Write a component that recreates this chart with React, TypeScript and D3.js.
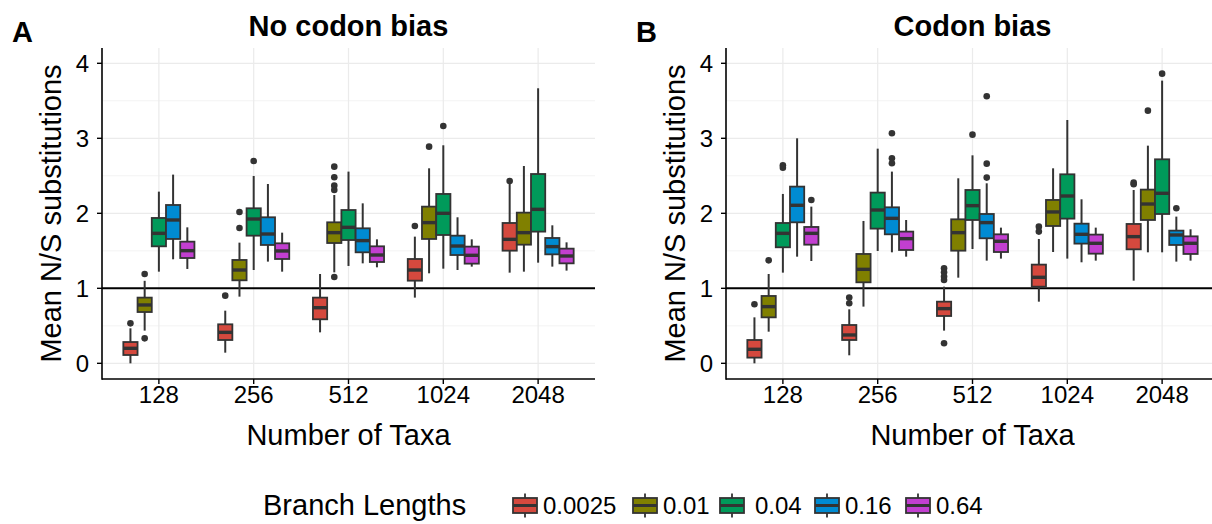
import React from "react";
import * as d3 from "d3";

const taxa = ["128", "256", "512", "1024", "2048"];
const branchLengths = ["0.0025", "0.01", "0.04", "0.16", "0.64"];
const fillColors = ["#D5493E", "#808000", "#009A5A", "#008BD2", "#C23FD0"];
const yTicks = [0, 1, 2, 3, 4];

// [lower whisker, q1, median, q3, upper whisker, outliers] per taxa, per branch length
const noBias128 = [
  [0.0, 0.111, 0.2, 0.284, 0.467, [0.533]],
  [0.436, 0.684, 0.778, 0.876, 1.1, [1.19, 0.333]],
  [1.222, 1.56, 1.733, 1.938, 2.289, []],
  [1.387, 1.658, 1.911, 2.111, 2.516, []],
  [1.258, 1.404, 1.502, 1.622, 1.813, []],
];
const noBias256 = [
  [0.142, 0.311, 0.413, 0.52, 0.702, [0.902]],
  [0.889, 1.107, 1.244, 1.378, 1.609, [1.804, 2.018]],
  [1.244, 1.702, 1.924, 2.067, 2.498, [2.698]],
  [1.356, 1.578, 1.724, 1.947, 2.391, []],
  [1.222, 1.391, 1.498, 1.6, 1.742, []],
];
const noBias512 = [
  [0.413, 0.587, 0.742, 0.876, 1.191, []],
  [1.213, 1.604, 1.742, 1.88, 2.244, [2.622, 2.48, 2.369, 2.311, 1.151]],
  [1.298, 1.644, 1.813, 2.044, 2.556, []],
  [1.333, 1.48, 1.636, 1.8, 2.133, []],
  [1.28, 1.351, 1.444, 1.56, 1.653, []],
];
const noBias1024 = [
  [0.876, 1.102, 1.244, 1.391, 1.689, [1.831]],
  [1.2, 1.658, 1.876, 2.089, 2.6, [2.889]],
  [1.262, 1.711, 2.0, 2.258, 2.907, [3.164]],
  [1.244, 1.444, 1.564, 1.702, 1.947, []],
  [1.289, 1.329, 1.44, 1.556, 1.653, []],
];
const noBias2048 = [
  [1.209, 1.502, 1.653, 1.871, 2.391, [2.431]],
  [1.222, 1.582, 1.742, 2.009, 2.631, []],
  [1.342, 1.756, 2.053, 2.524, 3.667, []],
  [1.289, 1.453, 1.556, 1.671, 1.84, []],
  [1.236, 1.333, 1.431, 1.529, 1.613, []],
];

const bias128 = [
  [0.0, 0.076, 0.187, 0.311, 0.613, [0.787]],
  [0.422, 0.613, 0.756, 0.898, 1.191, [1.373]],
  [1.209, 1.547, 1.733, 1.871, 2.258, [2.64, 2.609]],
  [1.422, 1.88, 2.107, 2.356, 3.0, []],
  [1.364, 1.582, 1.733, 1.818, 2.089, [2.178]],
];
const bias256 = [
  [0.107, 0.311, 0.378, 0.511, 0.72, [0.876, 0.8]],
  [0.756, 1.08, 1.253, 1.458, 1.898, []],
  [1.498, 1.796, 2.044, 2.276, 2.862, []],
  [1.48, 1.72, 1.933, 2.08, 2.556, [3.067, 2.733, 2.667]],
  [1.422, 1.511, 1.662, 1.756, 1.911, []],
];
const bias512 = [
  [0.436, 0.631, 0.729, 0.822, 1.022, [1.267, 1.213, 1.156, 1.111, 0.267]],
  [1.142, 1.502, 1.742, 1.92, 2.467, []],
  [1.524, 1.911, 2.102, 2.311, 2.773, [3.049]],
  [1.369, 1.667, 1.876, 1.991, 2.4, [3.56, 2.662, 2.476]],
  [1.396, 1.484, 1.627, 1.72, 1.809, []],
];
const bias1024 = [
  [0.822, 1.022, 1.147, 1.316, 1.658, [1.822, 1.756]],
  [1.484, 1.831, 2.018, 2.178, 2.6, []],
  [1.396, 1.929, 2.231, 2.52, 3.244, []],
  [1.347, 1.596, 1.72, 1.862, 2.187, []],
  [1.369, 1.462, 1.6, 1.716, 1.809, []],
];
const bias2048 = [
  [1.102, 1.52, 1.689, 1.858, 2.311, [2.409, 2.387]],
  [1.48, 1.911, 2.124, 2.316, 2.902, [3.369]],
  [1.48, 1.991, 2.267, 2.72, 3.769, [3.862]],
  [1.356, 1.578, 1.711, 1.769, 1.956, [2.067]],
  [1.369, 1.458, 1.6, 1.693, 1.787, []],
];

const noBiasData = [noBias128, noBias256, noBias512, noBias1024, noBias2048];
const biasData = [bias128, bias256, bias512, bias1024, bias2048];

const FONT = "'Liberation Sans', Arial, Helvetica, sans-serif";
const DARK = "#333333";

type Stat = (number | number[])[];

function Panel({ left, right, title, letter, data }: { left: number; right: number; title: string; letter: string; data: Stat[][] }) {
  const top = 48;
  const bottom = 379;
  const y = d3.scaleLinear().domain([-0.209, 4.204]).range([bottom, top]);
  const xp = d3.scalePoint().domain(taxa).range([left, right]).padding(0.6);
  const step = xp.step();
  const dodge = d3.scaleBand().domain(branchLengths).range([-0.375 * step, 0.375 * step]);
  const bw = dodge.bandwidth();
  const minor = d3.range(-0.5, 4.5, 1).filter((v) => v > -0.209 && v < 4.204);
  const cx = (left + right) / 2;
  const cy = (top + bottom) / 2;
  return (
    <g>
      <defs>
        <clipPath id={`clip-${letter}`}>
          <rect x={left} y={top} width={right - left} height={bottom - top} />
        </clipPath>
      </defs>
      {minor.map((v) => (
        <line key={`mi${v}`} x1={left} x2={right} y1={y(v)} y2={y(v)} stroke="#F3F3F3" strokeWidth={1} />
      ))}
      {yTicks.map((v) => (
        <line key={`ma${v}`} x1={left} x2={right} y1={y(v)} y2={y(v)} stroke="#EBEBEB" strokeWidth={1.2} />
      ))}
      {taxa.map((t) => (
        <line key={`vg${t}`} x1={xp(t)} x2={xp(t)} y1={top} y2={bottom} stroke="#EBEBEB" strokeWidth={1.2} />
      ))}
      <line x1={left} x2={right} y1={y(1)} y2={y(1)} stroke="#000" strokeWidth={2} />
      <g clipPath={`url(#clip-${letter})`}>
        {data.map((group, gi) =>
          group.map((s, bi) => {
            const [lo, q1, med, q3, hi, outs] = s as [number, number, number, number, number, number[]];
            const c = (xp(taxa[gi]) as number) + (dodge(branchLengths[bi]) as number) + bw / 2;
            return (
              <g key={`b${gi}-${bi}`}>
                <line x1={c} x2={c} y1={y(hi)} y2={y(q3)} stroke={DARK} strokeWidth={2} />
                <line x1={c} x2={c} y1={y(q1)} y2={y(lo)} stroke={DARK} strokeWidth={2} />
                <rect x={c - bw / 2} y={y(q3)} width={bw} height={y(q1) - y(q3)} fill={fillColors[bi]} stroke={DARK} strokeWidth={1.8} />
                <line x1={c - bw / 2} x2={c + bw / 2} y1={y(med)} y2={y(med)} stroke={DARK} strokeWidth={3.4} />
                {outs.map((o, oi) => (
                  <circle key={oi} cx={c} cy={y(o)} r={3.3} fill={DARK} />
                ))}
              </g>
            );
          })
        )}
      </g>
      <line x1={left} x2={left} y1={top} y2={bottom + 0.8} stroke="#000" strokeWidth={1.6} />
      <line x1={left} x2={right} y1={bottom} y2={bottom} stroke="#000" strokeWidth={1.6} />
      {yTicks.map((v) => (
        <g key={`yt${v}`}>
          <line x1={left - 5} x2={left} y1={y(v)} y2={y(v)} stroke="#000" strokeWidth={1.4} />
          <text x={left - 13} y={y(v)} dy="0.36em" textAnchor="end" fontSize={24} fontFamily={FONT} fill="#000">
            {v}
          </text>
        </g>
      ))}
      {taxa.map((t) => (
        <g key={`xt${t}`}>
          <line x1={xp(t)} x2={xp(t)} y1={bottom} y2={bottom + 5} stroke="#000" strokeWidth={1.4} />
          <text x={xp(t)} y={403} textAnchor="middle" fontSize={24} fontFamily={FONT} fill="#000">
            {t}
          </text>
        </g>
      ))}
      <text x={cx} y={445} textAnchor="middle" fontSize={29} fontFamily={FONT} fill="#000">
        Number of Taxa
      </text>
      <text transform={`translate(${left - 41},${cy}) rotate(-90)`} textAnchor="middle" fontSize={29} fontFamily={FONT} fill="#000">
        Mean N/S substitutions
      </text>
      <text x={cx} y={36} textAnchor="middle" fontSize={29} fontWeight="bold" fontFamily={FONT} fill="#000">
        {title}
      </text>
      <text x={left - 90} y={42} fontSize={29} fontWeight="bold" fontFamily={FONT} fill="#000">
        {letter}
      </text>
    </g>
  );
}

function Legend() {
  const keyX = [513, 633, 720, 815, 906];
  const labelX = [543, 663, 755, 845, 936];
  const kw = 24;
  const kh = 15;
  const ky = 505.5;
  return (
    <g>
      <text x={263} y={515} fontSize={29} fontFamily={FONT} fill="#000">
        Branch Lengths
      </text>
      {branchLengths.map((b, i) => (
        <g key={b}>
          <line x1={keyX[i] + kw / 2} x2={keyX[i] + kw / 2} y1={ky - 12} y2={ky + 12} stroke={DARK} strokeWidth={1.8} />
          <rect x={keyX[i]} y={ky - kh / 2} width={kw} height={kh} fill={fillColors[i]} stroke={DARK} strokeWidth={1.8} />
          <line x1={keyX[i]} x2={keyX[i] + kw} y1={ky} y2={ky} stroke={DARK} strokeWidth={3} />
          <text x={labelX[i]} y={514} fontSize={24} fontFamily={FONT} fill="#000">
            {b}
          </text>
        </g>
      ))}
    </g>
  );
}

export default function App() {
  return (
    <svg width={1212} height={524} style={{ position: "absolute", left: 0, top: 0, background: "#fff" }}>
      <rect width={1212} height={524} fill="#fff" />
      <Panel left={102} right={595} title="No codon bias" letter="A" data={noBiasData as Stat[][]} />
      <Panel left={726} right={1219} title="Codon bias" letter="B" data={biasData as Stat[][]} />
      <Legend />
    </svg>
  );
}
